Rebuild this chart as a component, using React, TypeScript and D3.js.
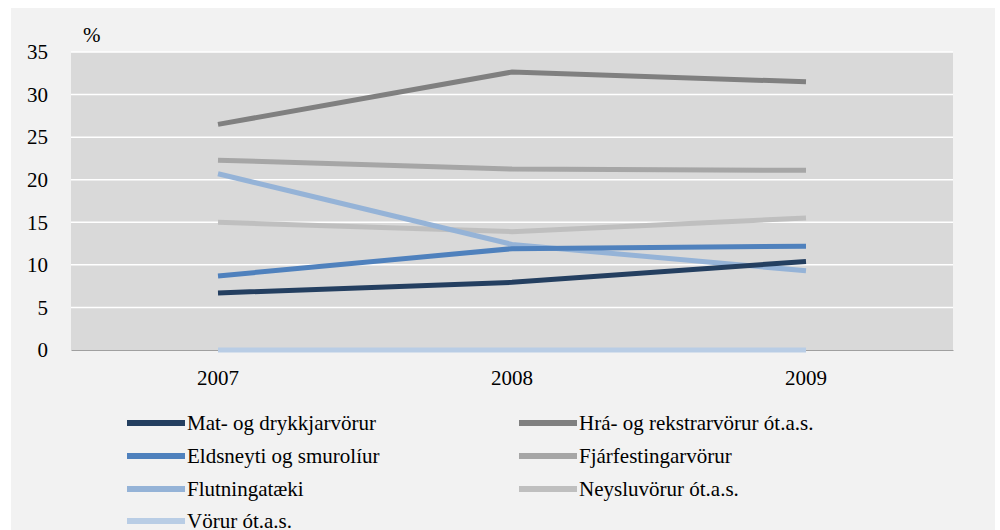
import React, { useEffect, useRef } from 'react';
import * as d3 from 'd3';

// years on the x axis
const years = ['2007', '2008', '2009'];
const yTicks = [0, 5, 10, 15, 20, 25, 30, 35];

// series, in %
const matOgDrykkjarvorur = [6.7, 7.95, 10.4];
const eldsneytiOgSmurolur = [8.7, 11.9, 12.2];
const flutningataeki = [20.7, 12.4, 9.3];
const vorurOtas = [0, 0, 0];
const hraOgRekstrarvorur = [26.5, 32.65, 31.5];
const fjarfestingarvorur = [22.3, 21.25, 21.1];
const neysluvorur = [15.0, 13.9, 15.5];

const seriesNames = [
  'Mat- og drykkjarvörur',
  'Eldsneyti og smurolíur',
  'Flutningatæki',
  'Vörur ót.a.s.',
  'Hrá- og rekstrarvörur ót.a.s.',
  'Fjárfestingarvörur',
  'Neysluvörur ót.a.s.',
];
const seriesValues = [
  matOgDrykkjarvorur,
  eldsneytiOgSmurolur,
  flutningataeki,
  vorurOtas,
  hraOgRekstrarvorur,
  fjarfestingarvorur,
  neysluvorur,
];
const seriesColors = ['#243f60', '#4f81bd', '#95b3d7', '#b9cde5', '#808080', '#a6a6a6', '#bfbfbf'];

const FONT = "'Liberation Serif', 'DejaVu Serif', serif";

const App = () => {
  const svgRef = useRef<SVGSVGElement>(null);

  useEffect(() => {
    const svg = d3.select(svgRef.current);
    svg.selectAll('*').remove();

    const width = 1000;
    const height = 530;
    const left = 71;
    const right = 953;
    const top = 52;
    const bottom = 350;

    // outer panel
    svg.append('rect')
      .attr('x', 11).attr('y', 8)
      .attr('width', 984).attr('height', height - 8)
      .attr('fill', '#f2f2f2');

    const x = d3.scaleBand().domain(years).range([left, right]);
    const y = d3.scaleLinear().domain([0, 35]).range([bottom, top]);

    // plot area
    svg.append('rect')
      .attr('x', left).attr('y', top)
      .attr('width', right - left).attr('height', bottom - top)
      .attr('fill', '#d9d9d9');

    // gridlines
    svg.append('g')
      .selectAll('line')
      .data(yTicks.filter(t => t > 0))
      .join('line')
      .attr('x1', left).attr('x2', right)
      .attr('y1', d => y(d)).attr('y2', d => y(d))
      .attr('stroke', '#ffffff')
      .attr('stroke-width', 1.5);

    // y axis labels
    const yAxis = svg.append('g')
      .attr('transform', `translate(${left}, 0)`)
      .call(d3.axisLeft(y).tickValues(yTicks).tickSize(0).tickPadding(23));
    yAxis.select('.domain').remove();
    yAxis.attr('font-family', null).attr('font-size', null);
    yAxis.selectAll('text')
      .style('font-family', FONT)
      .style('font-size', '21px')
      .attr('fill', '#000');

    // x axis
    const xAxis = svg.append('g')
      .attr('transform', `translate(0, ${bottom})`)
      .call(d3.axisBottom(x).tickSize(0).tickPadding(20));
    xAxis.attr('font-family', null).attr('font-size', null);
    xAxis.select('.domain')
      .attr('stroke', '#a0a0a0')
      .attr('stroke-width', 1);
    xAxis.selectAll('text')
      .style('font-family', FONT)
      .style('font-size', '21px')
      .attr('fill', '#000');

    svg.append('text')
      .attr('x', 83).attr('y', 42)
      .style('font-family', FONT)
      .style('font-size', '21px')
      .text('%');

    const line = d3.line<number>()
      .x((_, i) => (x(years[i]) as number) + x.bandwidth() / 2)
      .y(d => y(d));

    const order = [3, 6, 5, 4, 2, 1, 0];
    svg.append('g')
      .selectAll('path')
      .data(order)
      .join('path')
      .attr('d', i => line(seriesValues[i]))
      .attr('fill', 'none')
      .attr('stroke', i => seriesColors[i])
      .attr('stroke-width', 5);

    // legend
    const legendRows = [423, 456, 489, 521];
    const legendCols = [127, 519];
    const legendPos = [
      [0, 0], [0, 1], [0, 2], [0, 3],
      [1, 0], [1, 1], [1, 2],
    ];
    const legend = svg.append('g')
      .selectAll('g')
      .data(seriesNames.map((name, i) => ({ name, i })))
      .join('g')
      .attr('transform', d => `translate(${legendCols[legendPos[d.i][0]]}, ${legendRows[legendPos[d.i][1]]})`);
    legend.append('line')
      .attr('x1', 0).attr('x2', 58)
      .attr('y1', 0).attr('y2', 0)
      .attr('stroke', d => seriesColors[d.i])
      .attr('stroke-width', 6);
    legend.append('text')
      .attr('x', 60).attr('y', 7)
      .style('font-family', FONT)
      .style('font-size', '21px')
      .attr('fill', '#000')
      .text(d => d.name);

    svg.attr('width', width).attr('height', height);
  }, []);

  return (
    <svg
      ref={svgRef}
      width={1000}
      height={530}
      style={{ position: 'absolute', left: 0, top: 0, background: '#fff' }}
    ></svg>
  );
};

export default App;
